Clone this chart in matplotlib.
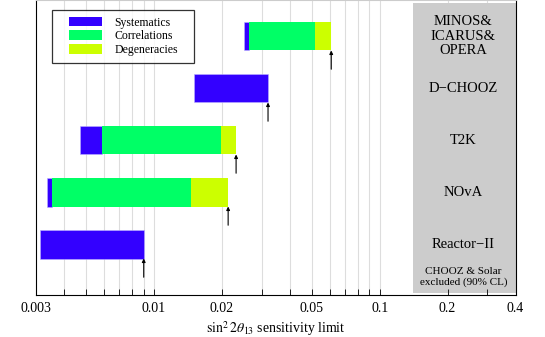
import matplotlib
matplotlib.use('Agg')
import matplotlib.pyplot as plt
from matplotlib.patches import Patch, Rectangle
from matplotlib.legend_handler import HandlerPatch
from matplotlib.ticker import FixedLocator, NullFormatter, FixedFormatter

plt.rcParams['font.family'] = ['Liberation Serif', 'DejaVu Serif']
plt.rcParams['mathtext.fontset'] = 'stix'

# Experiments, bottom to top
experiments = ['Reactor\u2212II', 'NOvA', 'T2K', 'D\u2212CHOOZ', 'MINOS&\nICARUS&\nOPERA']
rows = [1, 2, 3, 4, 5]

# sin^2 2theta13 limits: statistics only -> +systematics -> +correlations -> +degeneracies
stat_limit = [0.00311, 0.00336, 0.00471, 0.0150, 0.0250]
syst_limit = [0.0090, 0.00352, 0.0059, 0.0320, 0.0263]
corr_limit = [0.0090, 0.01459, 0.0198, 0.0320, 0.0515]
final_limit = [0.0090, 0.0213, 0.0231, 0.0320, 0.0610]

excluded_from = 0.14  # CHOOZ & solar excluded region
major_ticks = [0.003, 0.01, 0.02, 0.05, 0.1, 0.2, 0.4]
major_labels = ['0.003', '0.01', '0.02', '0.05', '0.1', '0.2', '0.4']
grid_ticks = [0.004, 0.005, 0.006, 0.007, 0.008, 0.009, 0.01,
              0.02, 0.03, 0.04, 0.05, 0.06, 0.07, 0.08, 0.09, 0.1, 0.2, 0.3]

c_syst = '#3300ff'
c_corr = '#00ff66'
c_degen = '#ccff00'

fig = plt.figure(figsize=(5.45, 3.37), dpi=100)
ax = fig.add_axes([0.0662, 0.1246, 0.8797, 0.8754])
ax.set_xscale('log')
ax.set_xlim(0.003, 0.4)
ax.set_ylim(0.023, 5.696)

for x in grid_ticks:
    ax.axvline(x, color='#dddddd', lw=0.8, zorder=0)

ax.axvspan(excluded_from, 0.4, ymin=0.007, ymax=0.991, color='#cccccc', lw=0, zorder=1)

h = 0.55
ax.barh(rows, [s - a for s, a in zip(syst_limit, stat_limit)], left=stat_limit,
        height=h, color=c_syst, edgecolor='#bbb0ff', linewidth=0.4, zorder=2)
ax.barh(rows, [c - s for c, s in zip(corr_limit, syst_limit)], left=syst_limit,
        height=h, color=c_corr, edgecolor='none', zorder=2)
ax.barh(rows, [f - c for f, c in zip(final_limit, corr_limit)], left=corr_limit,
        height=h, color=c_degen, edgecolor='none', zorder=2)

for r, f in zip(rows, final_limit):
    ax.annotate('', xy=(f, r - h / 2), xytext=(f, r - h / 2 - 0.36),
                arrowprops=dict(arrowstyle='-|>', color='black', lw=0.8,
                                mutation_scale=5, shrinkA=0, shrinkB=0),
                zorder=3)

for r, name in zip(rows, experiments):
    ax.text(0.235, r, name, ha='center', va='center', fontsize=10.5,
            linespacing=1.13, zorder=4)
ax.text(0.235, 0.375, 'CHOOZ & Solar\nexcluded (90% CL)', ha='center', va='center',
        fontsize=8, linespacing=1.2, zorder=4)

ax.xaxis.set_major_locator(FixedLocator(major_ticks))
ax.xaxis.set_major_formatter(FixedFormatter(major_labels))
ax.xaxis.set_minor_locator(FixedLocator(grid_ticks))
ax.xaxis.set_minor_formatter(NullFormatter())
ax.tick_params(axis='x', which='both', direction='in', length=4, width=0.6,
               labelsize=10, pad=5)
ax.set_yticks([])
ax.spines['top'].set_color('#cccccc')
for s in ['left', 'bottom', 'right']:
    ax.spines[s].set_linewidth(0.8)
ax.set_xlabel(r'$\mathrm{sin}^2\,2\theta_{13}$ sensitivity limit', fontsize=10, labelpad=3)


# legend patch drawn on the right part of a wider handle box (extra left margin)
def inset_patch(legend, orig_handle, xdescent, ydescent, width, height, fontsize):
    off = 0.25 * width
    return Rectangle((-xdescent + off, -ydescent), width - off, height)


handles = [Patch(facecolor=c_syst), Patch(facecolor=c_corr), Patch(facecolor=c_degen)]
leg = ax.legend(handles, ['Systematics', 'Correlations', 'Degeneracies'],
                loc='upper left', bbox_to_anchor=(0.0325, 0.966, 0.297, 0.0),
                mode='expand', borderaxespad=0, fontsize=8.5, frameon=True,
                fancybox=False, handlelength=3.75, handleheight=0.87,
                handletextpad=1.0, labelspacing=0.15, borderpad=0.55,
                handler_map={Patch: HandlerPatch(patch_func=inset_patch)})
leg.get_frame().set_edgecolor('black')
leg.get_frame().set_linewidth(0.9)
leg.set_zorder(5)

fig.savefig('out.png', dpi=100)
